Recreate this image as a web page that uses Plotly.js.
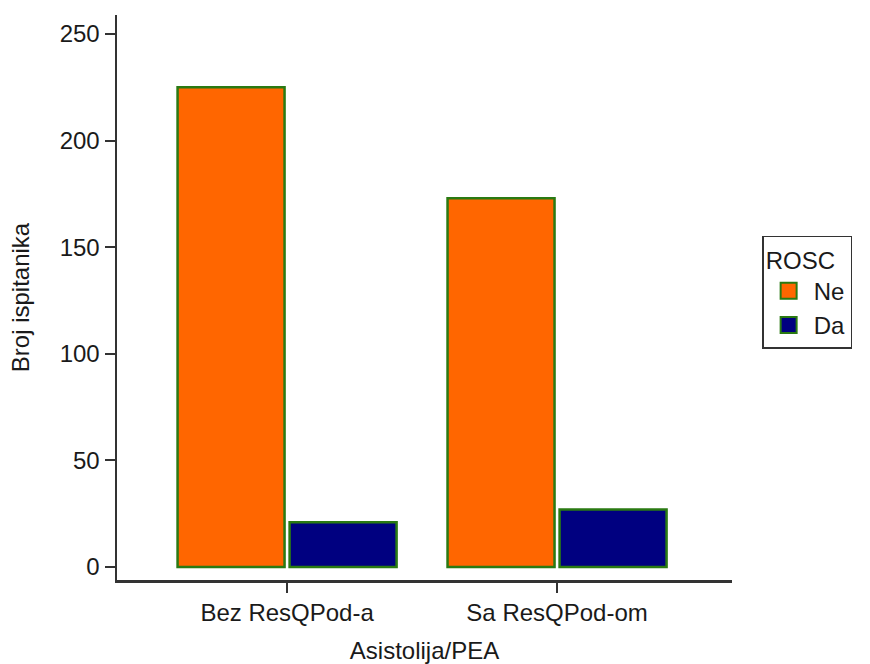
<!DOCTYPE html>
<html>
<head>
<meta charset="utf-8">
<script src="https://cdn.plot.ly/plotly-3.0.1.min.js"></script>
<style>html,body{margin:0;padding:0;background:#fff;}#chart{width:870px;height:664px;}</style>
</head>
<body>
<div id="chart"></div>
<script>
const categories = ["Bez ResQPod-a", "Sa ResQPod-om"];
const seriesNames = ["Ne", "Da"];
const seriesColors = ["#ff6600", "#000080"];
const valuesNe = [225, 173];
const valuesDa = [21, 27];
const yTicks = [0, 50, 100, 150, 200, 250];

const outlineColor = "#2a7a12";
const outline = {color: outlineColor, width: 2.5};
const traces = [
  {type: "bar", name: seriesNames[0], x: categories, y: valuesNe, showlegend: false,
   marker: {color: seriesColors[0], line: outline}},
  {type: "bar", name: seriesNames[1], x: categories, y: valuesDa, showlegend: false,
   marker: {color: seriesColors[1], line: outline}},
  // legend-only entries (bigger square swatches like the reference)
  {type: "scatter", mode: "markers", name: seriesNames[0], x: [null], y: [null],
   marker: {symbol: "square", size: 16, color: seriesColors[0], line: {color: outlineColor, width: 2}}},
  {type: "scatter", mode: "markers", name: seriesNames[1], x: [null], y: [null],
   marker: {symbol: "square", size: 16, color: seriesColors[1], line: {color: outlineColor, width: 2}}}
];

const font = {family: "Arial, 'Liberation Sans', sans-serif", size: 24, color: "#1a1a1a"};
const layout = {
  width: 870, height: 664,
  margin: {l: 117, r: 138, t: 15, b: 84, autoexpand: false},
  paper_bgcolor: "#ffffff", plot_bgcolor: "#ffffff",
  font: font,
  barmode: "group", bargap: 0.17, bargroupgap: 0.045,
  showlegend: true,
  legend: {
    x: 1.049, xanchor: "left", y: 0.609, yanchor: "top",
    bordercolor: "#333333", borderwidth: 1.5, bgcolor: "#ffffff",
    title: {text: "ROSC", font: font},
    font: font, itemsizing: "trace", tracegroupgap: 0, itemwidth: 40
  },
  xaxis: {
    range: [-0.63, 1.648], showgrid: false, zeroline: false,
    showline: true, linecolor: "#333333", linewidth: 2.5,
    ticks: "outside", ticklen: 10, tickwidth: 2, tickcolor: "#333333",
    tickfont: font,
    title: {text: "Asistolija/PEA", font: font, standoff: 18}
  },
  yaxis: {
    range: [-6.1, 258.9], showgrid: false, zeroline: false,
    showline: true, linecolor: "#333333", linewidth: 2.5,
    ticks: "outside", ticklen: 10, tickwidth: 2, tickcolor: "#333333",
    tickvals: yTicks, ticktext: yTicks.map(String), tickfont: font,
    title: {text: "Broj ispitanika", font: font, standoff: 24}
  }
};

Plotly.newPlot("chart", traces, layout, {displayModeBar: false, staticPlot: true});
</script>
</body>
</html>
